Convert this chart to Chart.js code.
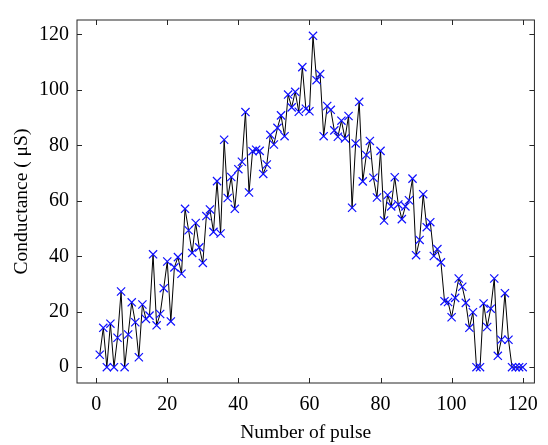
<!DOCTYPE html>
<html><head><meta charset="utf-8">
<script src="https://cdn.jsdelivr.net/npm/chart.js@4.4.1/dist/chart.umd.min.js"></script>
<style>html,body{margin:0;padding:0;background:#fff}#wrap{width:548px;height:445px;position:relative}</style>
</head><body><div id="wrap"><canvas id="c" width="548" height="445"></canvas></div>
<script>
const pulseNumbers = [1,2,3,4,5,6,7,8,9,10,11,12,13,14,15,16,17,18,19,20,21,22,23,24,25,26,27,28,29,30,
31,32,33,34,35,36,37,38,39,40,41,42,43,44,45,46,47,48,49,50,51,52,53,54,55,56,57,58,59,60,
61,62,63,64,65,66,67,68,69,70,71,72,73,74,75,76,77,78,79,80,81,82,83,84,85,86,87,88,89,90,
91,92,93,94,95,96,97,98,99,100,101,102,103,104,105,106,107,108,109,110,111,112,113,114,115,116,117,118,119,120];
const conductance = [4.5,14.2,0,15.7,0,10.6,27.3,0,11.8,23.4,16.2,3.6,22.6,17.4,18.6,40.7,15.1,19.2,28.5,38.1,
16.5,36,39.7,33.7,57.1,49.4,41.2,52,43.2,37.6,54.5,56.9,48.8,67.1,48.2,82,61,68.6,57.1,71.4,
74.1,92,63,77.9,78.4,78,69.7,73.1,83.8,80.3,86.3,90.8,83.3,98.3,93.7,99.3,92.1,108.2,93.2,92.3,
119.5,103.5,105.7,83.3,94.2,92.8,85.4,83.1,88.9,82.5,90.6,57.5,80.7,95.7,67,76.5,81.6,68.3,61.2,78,
52.9,62.1,58,68.5,58.7,53.4,58,60.2,68,40.4,45.9,62.4,50.5,52.3,40.1,42.6,37.8,23.8,23.5,18,
25,32,29,23.2,14.2,19.8,0,0,23,14.5,21.1,32,4.1,9.9,26.7,9.9,0,0,0,0];
const xTickValues = [0,20,40,60,80,100,120];
const yTickValues = [0,20,40,60,80,100,120];
const xTitle = 'Number of pulse';
const yTitle = 'Conductance ( μS)';

const points = pulseNumbers.map((p, i) => ({x: p, y: conductance[i]}));
const FONT = 'Liberation Serif';
const AXIS = '#262626';

const frame = {
  id: 'frame',
  afterDraw(chart) {
    const {ctx, chartArea: a, scales: {x, y}} = chart;
    ctx.save();
    ctx.strokeStyle = AXIS;
    ctx.lineWidth = 1;
    ctx.strokeRect(a.left, a.top, a.right - a.left, a.bottom - a.top);
    const L = 5;
    ctx.beginPath();
    xTickValues.forEach(v => {
      const px = Math.round(x.getPixelForValue(v)) + 0.5;
      ctx.moveTo(px, a.bottom); ctx.lineTo(px, a.bottom - L);
      ctx.moveTo(px, a.top); ctx.lineTo(px, a.top + L);
    });
    yTickValues.forEach(v => {
      const py = Math.round(y.getPixelForValue(v)) + 0.5;
      ctx.moveTo(a.left, py); ctx.lineTo(a.left + L, py);
      ctx.moveTo(a.right, py); ctx.lineTo(a.right - L, py);
    });
    ctx.stroke();
    ctx.restore();
  }
};

new Chart(document.getElementById('c'), {
  type: 'line',
  data: { datasets: [{
    data: points,
    borderColor: '#000000',
    borderWidth: 1,
    pointStyle: 'crossRot',
    pointRadius: 5.8,
    pointBorderColor: '#0f0fff',
    pointBorderWidth: 1.2,
    pointBackgroundColor: '#0f0fff',
    tension: 0,
    clip: false
  }]},
  options: {
    responsive: false,
    animation: false,
    events: [],
    layout: { padding: { left: 0, top: 8, right: 12, bottom: 0 } },
    plugins: { legend: { display: false }, tooltip: { enabled: false } },
    scales: {
      x: {
        type: 'linear', min: -5.4, max: 123.3,
        grid: { display: false, drawTicks: false },
        border: { display: false },
        afterBuildTicks: s => { s.ticks = xTickValues.map(v => ({value: v})); },
        afterFit: s => { s.height = 62; },
        ticks: { color: '#000', font: { family: FONT, size: 20 }, padding: 10, maxRotation: 0 },
        title: { display: true, text: xTitle, color: '#000', font: { family: FONT, size: 19.5 }, padding: { top: 4, bottom: 0 } }
      },
      y: {
        type: 'linear', min: -5.7, max: 125.2,
        grid: { display: false, drawTicks: false },
        border: { display: false },
        afterBuildTicks: s => { s.ticks = yTickValues.map(v => ({value: v})); },
        afterFit: s => { s.width = 77; },
        ticks: { color: '#000', font: { family: FONT, size: 20 }, padding: 8 },
        title: { display: true, text: yTitle, color: '#000', font: { family: FONT, size: 19.5 }, padding: { top: 10, bottom: 4 } }
      }
    }
  },
  plugins: [frame]
});
</script></body></html>
